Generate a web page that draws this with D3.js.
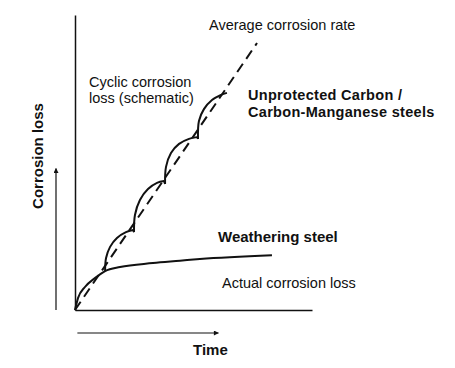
<!DOCTYPE html>
<html>
<head>
<meta charset="utf-8">
<script src="https://cdn.jsdelivr.net/npm/d3@7"></script>
<style>
  body { margin: 0; background: #fff; }
  svg { display: block; }
  text { font-family: "Liberation Sans", Arial, sans-serif; fill: #111; }
  .bold { font-weight: bold; }
</style>
</head>
<body>
<div id="chart"></div>
<script>
// values (time, loss in % of axis length)
const weatheringTime = [0, 1.3, 4.2, 8.4, 12.7, 19, 32.9, 44.3, 52.7, 83.1];
const weatheringLoss = [0, 4.1, 7.8, 10.8, 13.2, 14.6, 15.9, 16.7, 17.3, 18.6];

const averageTime = [0, 76.8];
const averageLoss = [0, 90.5];

// cyclic curve, one array per cycle
const cyclicTime = [
    [0, 1.3, 4.2, 8.4, 12.7],
    [12.7, 13.1, 14.8, 17.7, 21.5, 24.5],
    [24.9, 25.3, 27.4, 30.8, 34.6, 37.6],
    [38.0, 38.4, 40.5, 43.9, 48.1, 51.5],
    [51.9, 52.3, 54.4, 57.8, 61.6, 64.1]
];
const cyclicLoss = [
    [0, 4.1, 7.8, 10.8, 13.2],
    [13.2, 17.6, 21.4, 24.4, 26.4, 27.1],
    [26.4, 32.2, 37.3, 41.0, 43.1, 43.7],
    [42.7, 48.5, 53.2, 56.3, 58.0, 58.6],
    [58.0, 64.1, 68.1, 71.2, 72.9, 73.6]
];

const width = 455, height = 368;
const margin = {left: 75, top: 15, right: 143, bottom: 58};

const svg = d3.select('#chart').append('svg')
    .attr('width', width)
    .attr('height', height);

const x = d3.scaleLinear().domain([0, 100]).range([margin.left, width - margin.right]);
const y = d3.scaleLinear().domain([0, 100]).range([height - margin.bottom, margin.top]);

// axes without ticks
svg.append('g')
    .attr('transform', `translate(0,${y(0)})`)
    .call(d3.axisBottom(x).ticks(0).tickSizeOuter(0))
    .select('.domain').attr('stroke', '#111').attr('stroke-width', 1.5);
svg.append('g')
    .attr('transform', `translate(${x(0)},0)`)
    .call(d3.axisLeft(y).ticks(0).tickSizeOuter(0))
    .select('.domain').attr('stroke', '#111').attr('stroke-width', 1.5);

const line = d3.line()
    .x(d => x(d[0]))
    .y(d => y(d[1]))
    .curve(d3.curveCatmullRom.alpha(0.5));

// average corrosion rate (dashed)
svg.append('path')
    .datum(d3.zip(averageTime, averageLoss))
    .attr('d', d3.line().x(d => x(d[0])).y(d => y(d[1])))
    .attr('fill', 'none')
    .attr('stroke', '#111')
    .attr('stroke-width', 2)
    .attr('stroke-dasharray', '10,6');

// weathering steel
svg.append('path')
    .datum(d3.zip(weatheringTime, weatheringLoss))
    .attr('d', line.curve(d3.curveMonotoneX))
    .attr('fill', 'none')
    .attr('stroke', '#111')
    .attr('stroke-width', 2);
line.curve(d3.curveCatmullRom.alpha(0.5));

// cyclic corrosion loss (first cycle follows the weathering curve)
const cyclicPoints = [];
cyclicTime.forEach((ts, i) => {
    ts.forEach((t, j) => cyclicPoints.push([t, cyclicLoss[i][j], i]));
});
svg.append('g').selectAll('path')
    .data(d3.groups(cyclicPoints, d => d[2]).slice(1))
    .join('path')
    .attr('d', d => line(d[1]))
    .attr('fill', 'none')
    .attr('stroke', '#111')
    .attr('stroke-width', 2);
// small drops at the cusps
svg.append('g').selectAll('line')
    .data(d3.range(2, cyclicTime.length))
    .join('line')
    .attr('x1', i => x(cyclicTime[i - 1][cyclicTime[i - 1].length - 1]))
    .attr('y1', i => y(cyclicLoss[i - 1][cyclicLoss[i - 1].length - 1]))
    .attr('x2', i => x(cyclicTime[i][0]))
    .attr('y2', i => y(cyclicLoss[i][0]))
    .attr('stroke', '#111')
    .attr('stroke-width', 2);

// direction arrows
const defs = svg.append('defs');
defs.append('marker')
    .attr('id', 'head')
    .attr('viewBox', '0 0 10 10')
    .attr('refX', 9).attr('refY', 5)
    .attr('markerWidth', 7).attr('markerHeight', 5)
    .attr('markerUnits', 'userSpaceOnUse')
    .attr('orient', 'auto')
    .append('path').attr('d', 'M0,0L10,5L0,10z').attr('fill', '#111');

svg.append('line')
    .attr('x1', x(1)).attr('x2', x(60.5))
    .attr('y1', 333).attr('y2', 333)
    .attr('stroke', '#111').attr('stroke-width', 1.2)
    .attr('marker-end', 'url(#head)');
svg.append('line')
    .attr('x1', 56).attr('x2', 56)
    .attr('y1', y(0)).attr('y2', y(48))
    .attr('stroke', '#111').attr('stroke-width', 1.2)
    .attr('marker-end', 'url(#head)');

// labels
function label(txt, px, py, cls, size, spacing) {
    return svg.append('text')
        .attr('x', px).attr('y', py)
        .attr('class', cls || null)
        .style('font-size', (size || 14) + 'px')
        .style('letter-spacing', (spacing || 0) + 'px')
        .text(txt);
}
label('Average corrosion rate', 209, 30, null, 14.5);
label('Cyclic corrosion', 89, 87, null, 14.5);
label('loss (schematic)', 89, 103, null, 14.5);
label('Unprotected Carbon /', 248, 100, 'bold', 14.5, 0.3);
label('Carbon-Manganese steels', 248, 117, 'bold', 14.5, 0.3);
label('Weathering steel', 218, 242, 'bold', 15);
label('Actual corrosion loss', 222, 288, null, 14.5);
label('Time', 193, 355, 'bold', 15);

svg.append('text')
    .attr('class', 'bold')
    .attr('transform', 'translate(43,156) rotate(-90)')
    .attr('text-anchor', 'middle')
    .style('font-size', '15px')
    .text('Corrosion loss');
</script>
</body>
</html>
